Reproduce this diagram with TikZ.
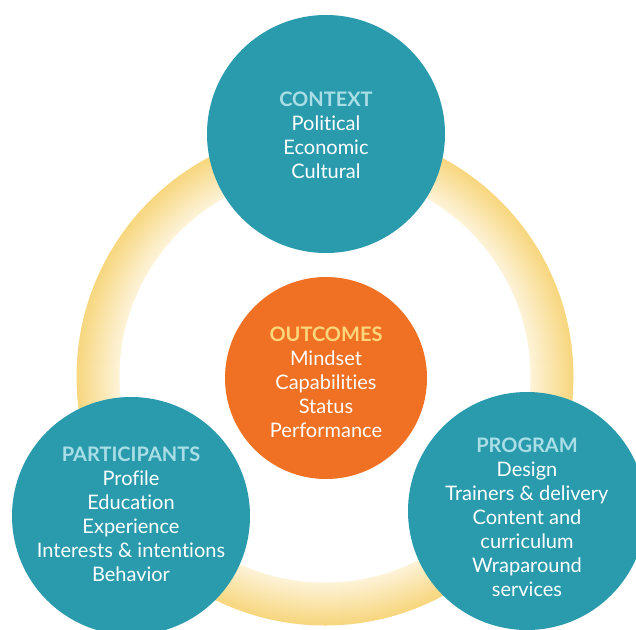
\documentclass[tikz,border=0pt]{standalone}
\usepackage{fontspec}
\setmainfont{Lato}[Ligatures=NoCommon]
\usetikzlibrary{calc}

\definecolor{hubteal}{RGB}{42,155,173}
\definecolor{coreorange}{RGB}{240,113,36}
\definecolor{hubtitle}{RGB}{170,222,230}
\definecolor{coretitle}{RGB}{251,214,122}
\definecolor{ringout}{RGB}{247,215,128}
\definecolor{ringin}{RGB}{253,243,216}

\tikzset{
	hub/.style={circle, fill=hubteal, minimum size=238pt, inner sep=0pt},
	core/.style={circle, fill=coreorange, minimum size=202pt, inner sep=0pt},
	blurb/.style={align=center, text=white, inner sep=0pt,
		font=\fontsize{20}{24}\selectfont},
}
\newcommand{\huthead}[2]{\textcolor{#1}{\textbf{#2}}}

\begin{document}
\begin{tikzpicture}[x=1pt, y=-1pt]
	\useasboundingbox (0,0) rectangle (636,629);
	
	% Drawing the ring
	\coordinate (ctr) at (325,377);
	\foreach \r [evaluate=\r as \pct using {int(\r*100/41)}] in {0,...,41}
		\draw[ringout!\pct!ringin, line width=2pt] (ctr) circle[radius={206.5pt+\r pt}];
	
	% Drawing the circles
	\node[hub] (context) at (326,134) {};
	\node[hub] (participants) at (131,516) {};
	\node[hub] (program) at (527,511) {};
	\node[core] (outcomes) at (326,378) {};
	
	% Drawing the texts
	\node[blurb] (context-txt) at ($(context)+(0,1)$)
		{\huthead{hubtitle}{CONTEXT}\\Political\\Economic\\Cultural};
	\node[blurb] (participants-txt) at ($(participants)+(0,-1.5)$)
		{\huthead{hubtitle}{PARTICIPANTS}\\Profile\\Education\\Experience\\Interests \& intentions\\Behavior};
	\node[blurb] (program-txt) at ($(program)+(0,6.5)$)
		{\huthead{hubtitle}{PROGRAM}\\Design\\Trainers \& delivery\\Content and\\curriculum\\Wraparound\\services};
	\node[blurb] (outcomes-txt) at ($(outcomes)+(0,4)$)
		{\huthead{coretitle}{OUTCOMES}\\Mindset\\Capabilities\\Status\\Performance};
\end{tikzpicture}
\end{document}
